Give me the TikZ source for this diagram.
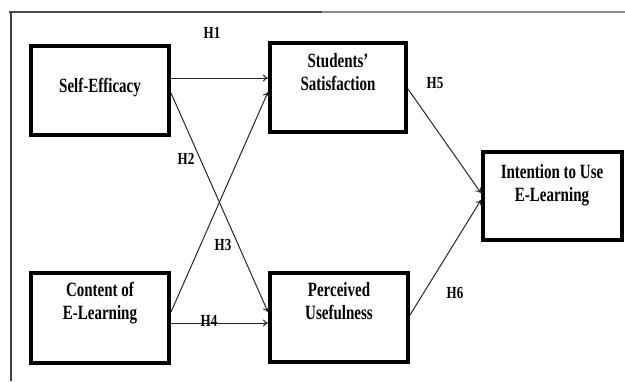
\documentclass[tikz,border=0pt]{standalone}
\usepackage{fontspec}
\setmainfont{Liberation Serif}
\usepackage{graphicx}
\usetikzlibrary{arrows.meta}
\newcommand{\stretchtxt}[1]{\scalebox{1}[1.35]{\begin{tabular}{@{}c@{}}#1\end{tabular}}}
\tikzset{
  box/.style={draw=black, line width=4pt, rectangle, inner sep=0pt, fill=white},
  lbl/.style={font=\fontsize{15}{16}\selectfont\bfseries, inner sep=0pt},
  hyp/.style={font=\fontsize{13}{15}\selectfont\bfseries, inner sep=0pt},
  arr/.style={draw=black!85, line width=1pt, -{To[length=5pt,width=7pt]}},
}
\begin{document}
\begin{tikzpicture}[x=1pt,y=-1pt]
\useasboundingbox (0,0) rectangle (625,381);
% frame lines
\draw[line width=1.6pt, black!70] (9,12) -- (322,12);
\draw[line width=1.6pt, black!45] (322,12) -- (625,12);
\draw[line width=1.2pt, black!75] (11,12) -- (11,381);
% boxes
\node[box, minimum width=138pt, minimum height=89pt] (se) at (100,90.5) {};
\node[box, minimum width=138pt, minimum height=90pt] (ce) at (100,318) {};
\node[box, minimum width=136pt, minimum height=89pt] (ss) at (338,87.5) {};
\node[box, minimum width=138pt, minimum height=89pt] (pu) at (339,317.5) {};
\node[box, minimum width=139pt, minimum height=88pt] (iu) at (552.5,196) {};
% texts
\node[lbl] (tse) at (100,88) {\stretchtxt{Self-Efficacy}};
\node[lbl] (tce) at (100,304) {\stretchtxt{Content of\\[1pt] E-Learning}};
\node[lbl] (tss) at (338,75) {\stretchtxt{Students'\\[1pt] Satisfaction}};
\node[lbl] (tpu) at (339,304) {\stretchtxt{Perceived\\[1pt] Usefulness}};
\node[lbl] (tiu) at (552,186) {\stretchtxt{Intention to Use\\[1pt] E-Learning}};
% connectors
\draw[arr] (se.east |- 0,78) -- (ss.west |- 0,78);
\draw[arr] (se.east |- 0,93) -- (pu.west |- 0,312);
\draw[arr] (ce.east |- 0,312) -- (ss.west |- 0,92);
\draw[arr] (ce.east |- 0,323) -- (pu.west |- 0,323);
\draw[arr] (ss.east |- 0,89) -- (iu.west |- 0,193);
\draw[arr] (pu.east |- 0,315) -- (iu.west |- 0,200);
% hypothesis labels
\node[hyp] (h1) at (212,33) {\scalebox{1}[1.3]{H1}};
\node[hyp] (h2) at (186,159) {\scalebox{1}[1.3]{H2}};
\node[hyp] (h3) at (223,245) {\scalebox{1}[1.3]{H3}};
\node[hyp] (h4) at (209,321) {\scalebox{1}[1.3]{H4}};
\node[hyp] (h5) at (435,83) {\scalebox{1}[1.3]{H5}};
\node[hyp] (h6) at (455,293) {\scalebox{1}[1.3]{H6}};
\end{tikzpicture}
\end{document}
